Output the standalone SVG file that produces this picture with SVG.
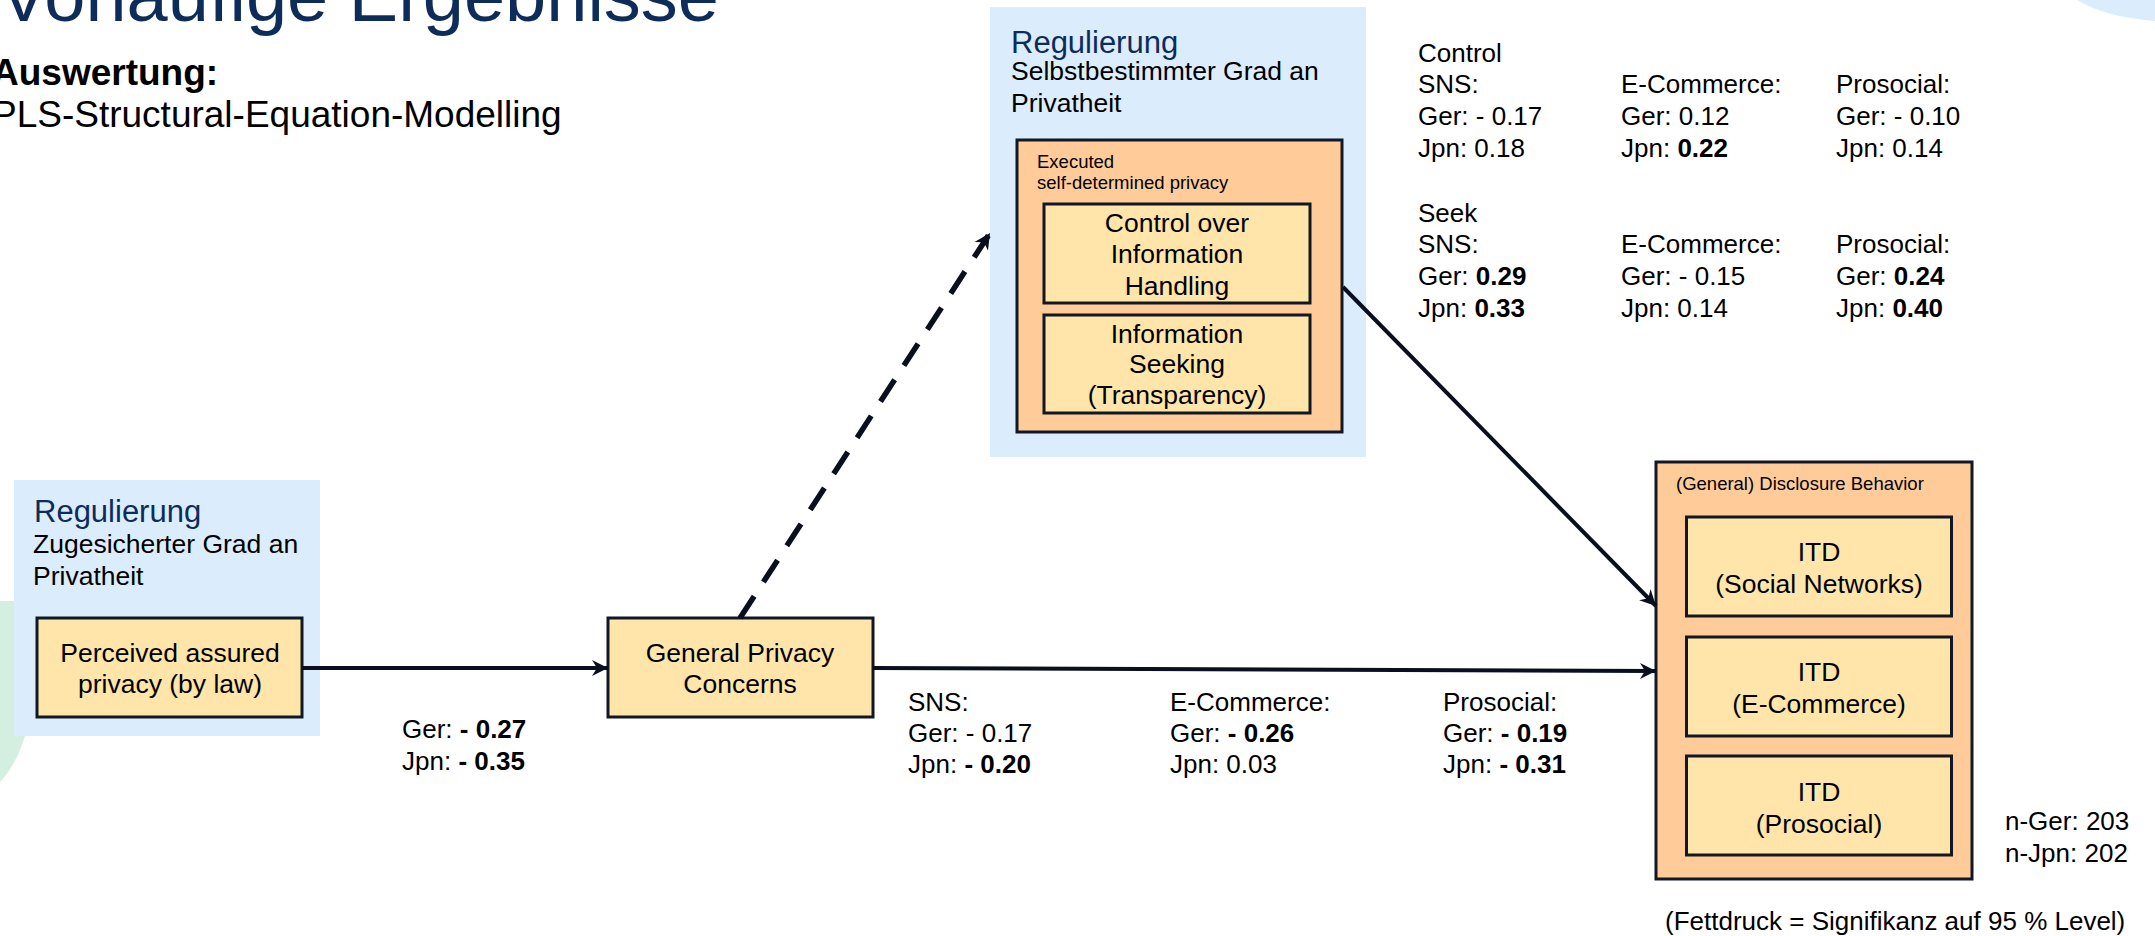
<svg xmlns="http://www.w3.org/2000/svg" width="2155" height="936" viewBox="0 0 2155 936">
<style>
text{font-family:"Liberation Sans",Arial,sans-serif;fill:#000}
.reg{font-size:31px;fill:#0d2c59}
.sub{font-size:26.5px}
.small{font-size:18.5px}
.lbl{font-size:26px}
.box{font-size:26.5px;text-anchor:middle}
.b{font-weight:bold}
.blue{fill:#dbedfc}
.item{fill:#ffe5aa;stroke:#111824;stroke-width:3}
.grp{fill:#ffcc99;stroke:#111824;stroke-width:3}
.edge{fill:none;stroke:#0a0f1e;stroke-width:4}
.dash{stroke-width:5.5;stroke-dasharray:26 17}
</style>
<defs>
<marker id="arr" markerUnits="userSpaceOnUse" markerWidth="20" markerHeight="20" refX="16" refY="8" orient="auto" viewBox="0 0 20 16">
<path d="M0,0 L16,8 L0,16 L5,8 Z" fill="#0a0f1e"/>
</marker>
</defs>
<rect width="2155" height="936" fill="#ffffff"/>
<path d="M2077,0 Q2105,17 2155,21 L2155,0 Z" fill="#dbedfc"/>
<path d="M0,601 L100,601 L100,736 L25,736 Q16,765 0,782 Z" fill="#d4eee0"/>

<g id="header">
<text x="719" y="21" font-size="74" text-anchor="end" style="fill:#0d2c59">Vorläufige Ergebnisse</text>
<text x="-8" y="85" font-size="37" class="b">Auswertung:</text>
<text x="-8" y="127" font-size="37">PLS-Structural-Equation-Modelling</text>
</g>

<g id="regulierung-selbst">
<rect class="blue" x="990" y="7" width="376" height="450"/>
<text class="reg" x="1011" y="53">Regulierung</text>
<text class="sub" x="1011" y="80">Selbstbestimmter Grad an</text>
<text class="sub" x="1011" y="112">Privatheit</text>
</g>
<g id="executed">
<rect class="grp" x="1017" y="140" width="325" height="292"/>
<text class="small" x="1037" y="168">Executed</text>
<text class="small" x="1037" y="189">self-determined privacy</text>
</g>
<g id="control">
<rect class="item" x="1044" y="204" width="266" height="99"/>
<text class="box" x="1177" y="232">Control over</text>
<text class="box" x="1177" y="263">Information</text>
<text class="box" x="1177" y="295">Handling</text>
</g>
<g id="seeking">
<rect class="item" x="1044" y="315" width="266" height="98"/>
<text class="box" x="1177" y="343">Information</text>
<text class="box" x="1177" y="373">Seeking</text>
<text class="box" x="1177" y="404">(Transparency)</text>
</g>

<g id="regulierung-zugesichert">
<rect class="blue" x="14" y="480" width="306" height="256"/>
<text class="reg" x="34" y="522">Regulierung</text>
<text class="sub" x="33" y="553">Zugesicherter Grad an</text>
<text class="sub" x="33" y="585">Privatheit</text>
</g>
<g id="perceived">
<rect class="item" x="37" y="618" width="265" height="99"/>
<text class="box" x="170" y="662">Perceived assured</text>
<text class="box" x="170" y="693">privacy (by law)</text>
</g>
<g id="gpc">
<rect class="item" x="608" y="618" width="265" height="99"/>
<text class="box" x="740" y="662">General Privacy</text>
<text class="box" x="740" y="693">Concerns</text>
</g>

<g id="disclosure">
<rect class="grp" x="1656" y="462" width="316" height="417"/>
<text class="small" x="1676" y="490">(General) Disclosure Behavior</text>
</g>
<g id="itd-sns">
<rect class="item" x="1686.5" y="517" width="265" height="99"/>
<text class="box" x="1819" y="561">ITD</text>
<text class="box" x="1819" y="593">(Social Networks)</text>
</g>
<g id="itd-ecom">
<rect class="item" x="1686.5" y="637" width="265" height="99"/>
<text class="box" x="1819" y="681">ITD</text>
<text class="box" x="1819" y="713">(E-Commerce)</text>
</g>
<g id="itd-pro">
<rect class="item" x="1686.5" y="756" width="265" height="99"/>
<text class="box" x="1819" y="801">ITD</text>
<text class="box" x="1819" y="833">(Prosocial)</text>
</g>

<g id="connectors">
<line class="edge" x1="302" y1="668" x2="608" y2="668" marker-end="url(#arr)"/>
<line class="edge" x1="873" y1="668" x2="1656" y2="671" marker-end="url(#arr)"/>
<line class="edge" x1="1343" y1="287" x2="1656" y2="606" marker-end="url(#arr)"/>
<line class="edge dash" x1="740" y1="618" x2="990" y2="233" marker-end="url(#arr)"/>
</g>

<g id="labels-top">
<text class="lbl" x="1418" y="62">Control</text>
<text class="lbl" x="1418" y="93">SNS:</text>
<text class="lbl" x="1418" y="125">Ger: - 0.17</text>
<text class="lbl" x="1418" y="157">Jpn: 0.18</text>
<text class="lbl" x="1621" y="93">E-Commerce:</text>
<text class="lbl" x="1621" y="125">Ger: 0.12</text>
<text class="lbl" x="1621" y="157">Jpn: <tspan class="b">0.22</tspan></text>
<text class="lbl" x="1836" y="93">Prosocial:</text>
<text class="lbl" x="1836" y="125">Ger: - 0.10</text>
<text class="lbl" x="1836" y="157">Jpn: 0.14</text>
<text class="lbl" x="1418" y="222">Seek</text>
<text class="lbl" x="1418" y="253">SNS:</text>
<text class="lbl" x="1418" y="285">Ger: <tspan class="b">0.29</tspan></text>
<text class="lbl" x="1418" y="317">Jpn: <tspan class="b">0.33</tspan></text>
<text class="lbl" x="1621" y="253">E-Commerce:</text>
<text class="lbl" x="1621" y="285">Ger: - 0.15</text>
<text class="lbl" x="1621" y="317">Jpn: 0.14</text>
<text class="lbl" x="1836" y="253">Prosocial:</text>
<text class="lbl" x="1836" y="285">Ger: <tspan class="b">0.24</tspan></text>
<text class="lbl" x="1836" y="317">Jpn: <tspan class="b">0.40</tspan></text>
</g>

<g id="labels-law">
<text class="lbl" x="402" y="738">Ger: <tspan class="b">- 0.27</tspan></text>
<text class="lbl" x="402" y="770">Jpn: <tspan class="b">- 0.35</tspan></text>
</g>

<g id="labels-gpc">
<text class="lbl" x="908" y="711">SNS:</text>
<text class="lbl" x="908" y="742">Ger: - 0.17</text>
<text class="lbl" x="908" y="773">Jpn: <tspan class="b">- 0.20</tspan></text>
<text class="lbl" x="1170" y="711">E-Commerce:</text>
<text class="lbl" x="1170" y="742">Ger: <tspan class="b">- 0.26</tspan></text>
<text class="lbl" x="1170" y="773">Jpn: 0.03</text>
<text class="lbl" x="1443" y="711">Prosocial:</text>
<text class="lbl" x="1443" y="742">Ger: <tspan class="b">- 0.19</tspan></text>
<text class="lbl" x="1443" y="773">Jpn: <tspan class="b">- 0.31</tspan></text>
</g>

<g id="notes">
<text class="lbl" x="2005" y="830">n-Ger: 203</text>
<text class="lbl" x="2005" y="862">n-Jpn: 202</text>
<text class="lbl" x="1665" y="930">(Fettdruck = Signifikanz auf 95 % Level)</text>
</g>
</svg>
